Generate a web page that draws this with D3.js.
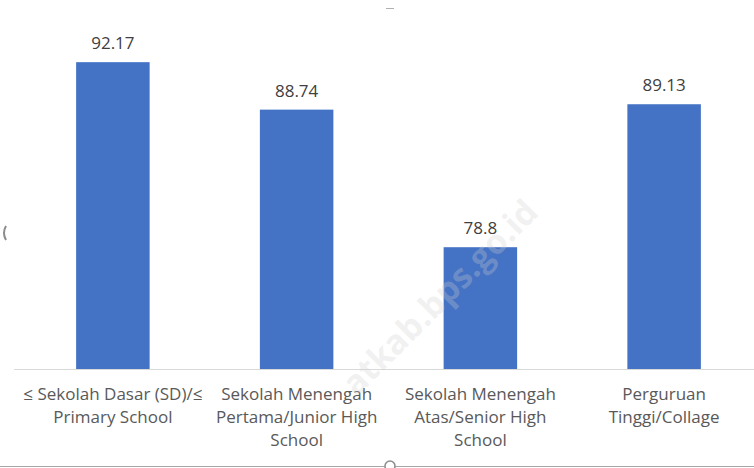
<!DOCTYPE html>
<html>
<head>
<meta charset="utf-8">
<script src="https://cdn.jsdelivr.net/npm/d3@7"></script>
<style>
  body { margin: 0; background: #fff; }
  svg { display: block; }
</style>
</head>
<body>
<div id="chart"></div>
<script>
const categories = [
  '≤ Sekolah Dasar (SD)/≤\nPrimary School',
  'Sekolah Menengah\nPertama/Junior High\nSchool',
  'Sekolah Menengah\nAtas/Senior High\nSchool',
  'Perguruan\nTinggi/Collage'
]
const values = [92.17, 88.74, 78.8, 89.13]

const width = 754
const height = 468
const margin = { top: 23, left: 21, right: -2, bottom: 99 }

const svg = d3
  .select('#chart')
  .append('svg')
  .attr('width', width)
  .attr('height', height)

/// scales ////////////////////////////////
const xScale = d3
  .scaleBand()
  .domain(categories)
  .range([margin.left, width - margin.right])
  .paddingInner(0.6)
  .paddingOuter(0.3)

const yScale = d3
  .scaleLinear()
  .domain([70, 95])
  .range([height - margin.bottom, margin.top])

const data = categories.map((c, i) => ({ cat: c, value: values[i] }))

// baseline
svg
  .append('line')
  .attr('x1', 14)
  .attr('x2', width)
  .attr('y1', yScale(70) + 0.5)
  .attr('y2', yScale(70) + 0.5)
  .attr('stroke', '#d9d9d9')
  .attr('stroke-width', 1)

/// bars ////////////////////////////////
svg
  .append('g')
  .selectAll('rect')
  .data(data)
  .enter()
  .append('rect')
  .attr('x', d => xScale(d.cat))
  .attr('y', d => yScale(d.value))
  .attr('width', xScale.bandwidth())
  .attr('height', d => yScale(70) - yScale(d.value))
  .attr('fill', '#4472c4')

/// value labels ////////////////////////////////
svg
  .append('g')
  .selectAll('text')
  .data(data)
  .enter()
  .append('text')
  .attr('x', d => xScale(d.cat) + xScale.bandwidth() / 2)
  .attr('y', d => yScale(d.value) - 13)
  .attr('text-anchor', 'middle')
  .attr('font-family', 'Open Sans, sans-serif')
  .attr('font-size', 17)
  .attr('fill', '#404040')
  .text(d => d.value)

/// category axis ////////////////////////////////
const xAxis = svg
  .append('g')
  .attr('transform', 'translate(0,' + yScale(70) + ')')
  .call(d3.axisBottom(xScale).tickSize(0).tickFormat(''))
  .call(g => g.select('.domain').remove())

xAxis
  .selectAll('.tick')
  .append('text')
  .attr('text-anchor', 'middle')
  .attr('font-family', 'Open Sans, sans-serif')
  .attr('font-size', 17)
  .attr('fill', '#595959')
  .selectAll('tspan')
  .data(d => d.split('\n'))
  .enter()
  .append('tspan')
  .attr('x', 0)
  .attr('y', (d, i) => 31 + i * 23)
  .text(d => d)

// watermark, on top of the bars
svg
  .append('text')
  .attr('x', 0)
  .attr('y', 0)
  .attr('transform', 'translate(540,214) rotate(-45)')
  .attr('text-anchor', 'end')
  .attr('font-family', 'Open Sans, sans-serif')
  .attr('font-weight', 'bold')
  .attr('font-size', 34)
  .attr('fill', '#d0d0d0')
  .attr('fill-opacity', 0.3)
  .text('atkab.bps.go.id')

// frame bits from the screenshot
svg
  .append('line')
  .attr('x1', 0)
  .attr('x2', width)
  .attr('y1', 466.5)
  .attr('y2', 466.5)
  .attr('stroke', '#a6a6a6')
svg
  .append('circle')
  .attr('cx', 390)
  .attr('cy', 466)
  .attr('r', 5)
  .attr('fill', '#fff')
  .attr('stroke', '#8c8c8c')
  .attr('stroke-width', 1.5)
svg
  .append('line')
  .attr('x1', 386)
  .attr('x2', 394)
  .attr('y1', 8.5)
  .attr('y2', 8.5)
  .attr('stroke', '#b0b0b0')
svg
  .append('path')
  .attr('d', 'M6,226 Q2,233 6,240')
  .attr('fill', 'none')
  .attr('stroke', '#8c8c8c')
  .attr('stroke-width', 2)
</script>
</body>
</html>
